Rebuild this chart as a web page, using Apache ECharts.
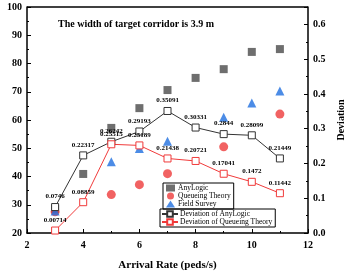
<!DOCTYPE html>
<html>
<head>
<meta charset="utf-8">
<script src="https://cdn.jsdelivr.net/npm/echarts@6/dist/echarts.min.js"></script>
<style>
  html, body { margin: 0; padding: 0; background: #fff; }
  #chart { width: 354px; height: 275px; }
</style>
</head>
<body>
<div id="chart"></div>
<script>
// data
let rates = [3, 4, 5, 6, 7, 8, 9, 10, 11];
let anyLogic = [28.5, 40.9, 57.2, 64.2, 70.6, 74.9, 78.0, 84.1, 85.1];
let queueing = [27.5, null, 33.6, 37.1, 41.0, null, 50.5, null, 62.1];
let fieldSurvey = [27.8, null, 45.2, 49.9, 52.5, null, 61.0, 66.0, 70.3];
let devAnyLogic = [0.0746, 0.22317, 0.26242, 0.29193, 0.35091, 0.30331, 0.2844, 0.28099, 0.21449];
let devQueueing = [0.00714, 0.08859, 0.25515, 0.25189, 0.21438, 0.20721, 0.17041, 0.1472, 0.11442];

function pairs(vals) {
  let out = [];
  vals.forEach(function (v, i) {
    if (v !== null) out.push([rates[i], v]);
  });
  return out;
}

let font = 'Liberation Serif';
let myChart = echarts.init(document.getElementById('chart'));

let axisLabel = { color: '#000', fontFamily: font, fontWeight: 'bold', fontSize: 10 };
let devLabel = {
  show: true,
  position: 'top',
  distance: 3,
  color: '#000',
  fontFamily: font,
  fontWeight: 'bold',
  fontSize: 7
};

let option = {
  animation: false,
  textStyle: { fontFamily: font },
  title: {
    text: 'The width of target corridor is 3.9 m',
    left: 53,
    top: 14,
    textStyle: { fontFamily: font, fontWeight: 'bold', fontSize: 10, color: '#000' }
  },
  grid: { left: 27, right: 46, top: 7, bottom: 42, containLabel: false, outerBoundsMode: 'none' },
  legend: [{
    data: ['AnyLogic', 'Queueing Theory', 'Field Survey'],
    orient: 'vertical',
    left: 163,
    top: 183,
    padding: [1, 3, 1, 3],
    itemGap: 0,
    itemWidth: 9,
    itemHeight: 7,
    borderColor: '#000',
    borderWidth: 1,
    textStyle: { fontFamily: font, fontSize: 7.5, color: '#000', padding: [0, 0, 0, -2] }
  }, {
    data: ['Deviation of AnyLogic', 'Deviation of Queueing Theory'],
    orient: 'vertical',
    left: 160,
    top: 209,
    padding: [1, 3, 1, 1],
    itemGap: 0,
    itemWidth: 16,
    itemHeight: 7,
    borderColor: '#000',
    borderWidth: 1,
    textStyle: { fontFamily: font, fontSize: 7.5, color: '#000', padding: [0, 0, 0, -3] }
  }],
  xAxis: {
    type: 'value',
    min: 2,
    max: 12,
    interval: 2,
    name: 'Arrival Rate (peds/s)',
    nameLocation: 'middle',
    nameGap: 27,
    nameTextStyle: { fontFamily: font, fontWeight: 'bold', fontSize: 11, color: '#000' },
    axisLine: { show: true, lineStyle: { color: '#000', width: 1.5 } },
    axisTick: { show: true, inside: true, length: 4, lineStyle: { color: '#000' } },
    minorTick: { show: true, splitNumber: 2, length: 2, lineStyle: { color: '#000' } },
    axisLabel: Object.assign({ margin: 7 }, axisLabel),
    splitLine: { show: false }
  },
  yAxis: [{
    type: 'value',
    min: 20,
    max: 100,
    interval: 10,
    name: 'Expected Time (s)',
    nameLocation: 'middle',
    nameGap: 19,
    nameTextStyle: { fontFamily: font, fontWeight: 'bold', fontSize: 8, color: '#000' },
    axisLine: { show: true, lineStyle: { color: '#000', width: 1.5 } },
    axisTick: { show: true, inside: true, length: 4, lineStyle: { color: '#000' } },
    minorTick: { show: true, splitNumber: 2, length: 2, lineStyle: { color: '#000' } },
    axisLabel: Object.assign({ margin: 5 }, axisLabel),
    splitLine: { show: false }
  }, {
    type: 'value',
    min: 0,
    max: 0.65,
    interval: 0.1,
    name: 'Deviation',
    nameLocation: 'middle',
    nameGap: 24,
    nameTextStyle: { fontFamily: font, fontWeight: 'bold', fontSize: 10, color: '#000' },
    axisLine: { show: true, lineStyle: { color: '#000', width: 1.5 } },
    axisTick: { show: true, inside: true, length: 4, lineStyle: { color: '#000' } },
    minorTick: { show: true, splitNumber: 2, length: 2, lineStyle: { color: '#000' } },
    axisLabel: Object.assign({ margin: 5, formatter: function (v) { return v > 0.62 ? '' : v.toFixed(1); } }, axisLabel),
    splitLine: { show: false }
  }],
  graphic: [{
    // top frame line
    type: 'line',
    shape: { x1: 27, y1: 7, x2: 308, y2: 7 },
    style: { stroke: '#000', lineWidth: 1.5 }
  }],
  series: [{
    name: 'AnyLogic',
    type: 'scatter',
    symbol: 'rect',
    symbolSize: 8,
    itemStyle: { color: '#4a4a4a' },
    data: pairs(anyLogic)
  }, {
    name: 'Queueing Theory',
    type: 'scatter',
    symbol: 'circle',
    symbolSize: 9,
    itemStyle: { color: '#ee3b3b' },
    data: pairs(queueing)
  }, {
    name: 'Field Survey',
    type: 'scatter',
    symbol: 'triangle',
    symbolSize: 9,
    itemStyle: { color: '#1f6fe0' },
    data: pairs(fieldSurvey)
  }, {
    name: 'Deviation of AnyLogic',
    type: 'line',
    yAxisIndex: 1,
    symbol: 'rect',
    symbolSize: 7,
    showAllSymbol: true,
    lineStyle: { color: '#333', width: 1 },
    itemStyle: { color: '#fff', borderColor: '#333', borderWidth: 1 },
    label: devLabel,
    data: pairs(devAnyLogic)
  }, {
    name: 'Deviation of Queueing Theory',
    type: 'line',
    yAxisIndex: 1,
    symbol: 'rect',
    symbolSize: 7,
    showAllSymbol: true,
    lineStyle: { color: '#f03a3a', width: 1 },
    itemStyle: { color: '#fff', borderColor: '#f03a3a', borderWidth: 1 },
    label: devLabel,
    data: pairs(devQueueing)
  }]
};

myChart.setOption(option);
window.addEventListener('resize', () => {
  myChart.resize();
}, true);
</script>
</body>
</html>
